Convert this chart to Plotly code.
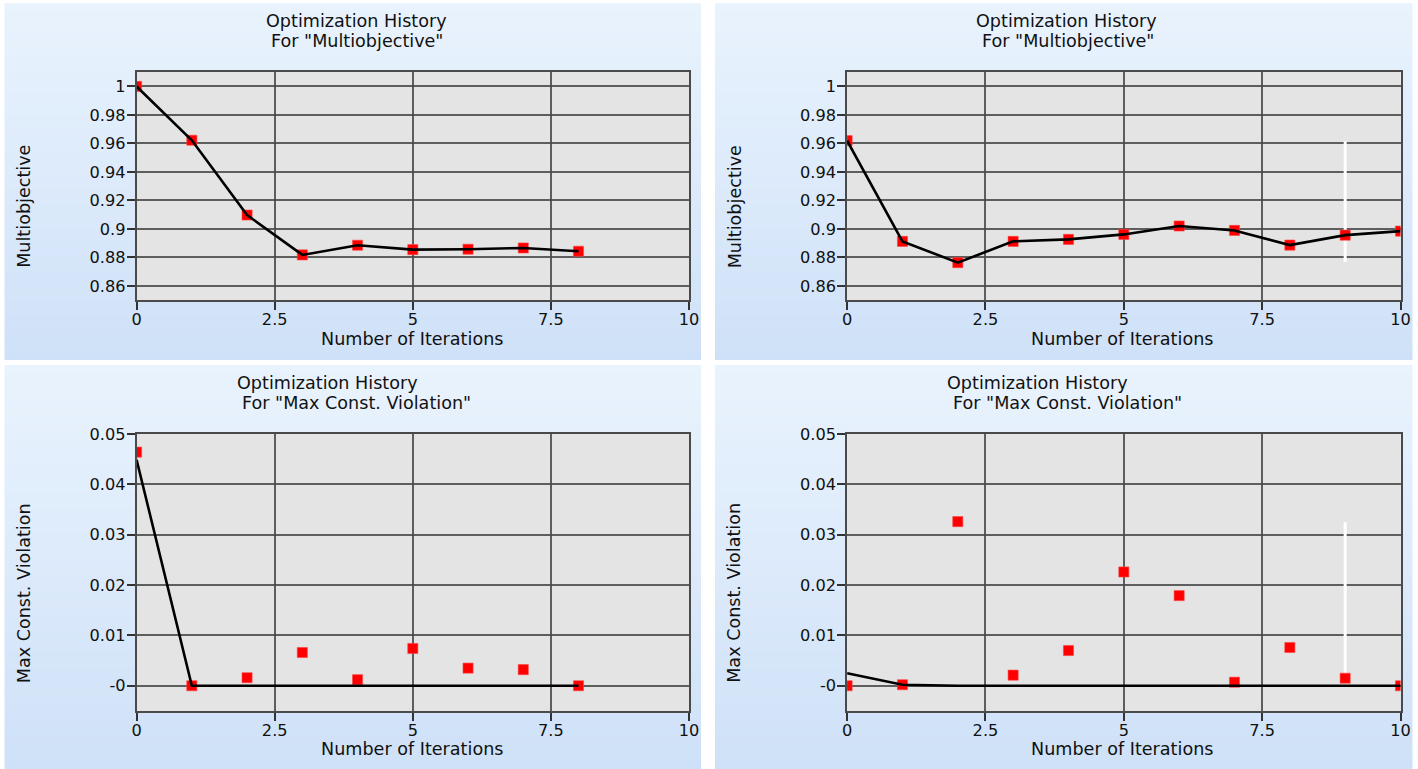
import plotly.graph_objects as go

# ---------------- data ----------------
iters_left = [0, 1, 2, 3, 4, 5, 6, 7, 8]
iters_right = [0, 1, 2, 3, 4, 5, 6, 7, 8, 9, 10]

multi_left = [1.0, 0.9622, 0.9097, 0.8817, 0.8885, 0.8854, 0.8857, 0.8866, 0.8843]
multi_right = [0.9619, 0.8912, 0.8763, 0.8912, 0.8926, 0.8961, 0.9020, 0.8989, 0.8886, 0.8956, 0.8984]

viol_left_pts = [0.0464, 0.0, 0.0016, 0.0066, 0.0012, 0.0074, 0.0035, 0.0032, 0.0]
viol_left_line = [0.0449, 0.0, 0.0, 0.0, 0.0, 0.0001, 0.0, 0.0, 0.0]
viol_right_pts = [0.0, 0.0002, 0.0326, 0.0021, 0.0070, 0.0226, 0.0179, 0.0007, 0.0076, 0.0015, 0.0]
viol_right_line = [0.0025, 0.0002, 0.0, 0.0, 0.0001, 0.0, 0.0, 0.0, 0.0, 0.0, 0.0]

range_bar_x = [9, 9]
multi_range_bar = [0.8767, 0.9614]
viol_range_bar = [0.0015, 0.0325]

x_ticks = [0, 2.5, 5, 7.5, 10]
x_ticklabels = ["0", "2.5", "5", "7.5", "10"]
multi_ticks = [0.86, 0.88, 0.9, 0.92, 0.94, 0.96, 0.98, 1.0]
multi_ticklabels = ["0.86", "0.88", "0.9", "0.92", "0.94", "0.96", "0.98", "1"]
viol_ticks = [0.0, 0.01, 0.02, 0.03, 0.04, 0.05]
viol_ticklabels = ["-0", "0.01", "0.02", "0.03", "0.04", "0.05"]

title_line1 = "Optimization History"
title_multi_line2 = "For \"Multiobjective\""
title_viol_line2 = "For \"Max Const. Violation\""
ylabel_multi = "Multiobjective"
ylabel_viol = "Max Const. Violation"
xlabel = "Number of Iterations"

# ---------------- layout geometry (reference pixels) ----------------
W, H = 1418, 769
# the page is photographed slightly scaled/offset; pre-compensate positions
S, OX, OY = 0.9887, 4.5, 8.8
FONT = "DejaVu Sans"
TXT = "#111111"
GRID = "rgba(70,70,70,0.85)"
TS = 17.4 / S
TKS = 16 / S


def fx(p):
    return ((p - OX) / S) / W


def fy(p):
    return 1 - ((p - OY) / S) / H


panels = [(4, 3, 700, 360), (714, 3, 1411, 360), (4, 365, 700, 769), (714, 365, 1411, 769)]
plots = [(136, 72, 688, 300), (846, 72, 1399, 300), (136, 434, 688, 711), (846, 434, 1399, 711)]

fig = go.Figure()

shapes = []
top_c = (233, 243, 253)
bot_c = (207, 225, 248)
n = 48
for (l, t, r, b) in panels:
    h = (b - t) / n
    for i in range(n):
        f = (i + 0.5) / n
        c = tuple(round(top_c[k] + (bot_c[k] - top_c[k]) * f) for k in range(3))
        yb = b + 12 if (i == n - 1 and b >= 769) else min(b, t + (i + 1) * h + 0.6)
        shapes.append(dict(type="rect", xref="paper", yref="paper", layer="below",
                           x0=fx(l), x1=fx(r), y0=fy(t + i * h), y1=fy(yb),
                           line=dict(width=0), fillcolor="rgb(%d,%d,%d)" % c))
for (l, t, r, b) in plots:
    shapes.append(dict(type="rect", xref="paper", yref="paper", layer="below",
                       x0=fx(l), x1=fx(r), y0=fy(b), y1=fy(t),
                       line=dict(width=0), fillcolor="#e4e4e4"))

subplots = [
    dict(x=iters_left, pts=multi_left, line=multi_left, bar=None,
         ticks=multi_ticks, labels=multi_ticklabels, yr=[0.85, 1.01]),
    dict(x=iters_right, pts=multi_right, line=multi_right, bar=multi_range_bar,
         ticks=multi_ticks, labels=multi_ticklabels, yr=[0.85, 1.01]),
    dict(x=iters_left, pts=viol_left_pts, line=viol_left_line, bar=None,
         ticks=viol_ticks, labels=viol_ticklabels, yr=[-0.005, 0.05]),
    dict(x=iters_right, pts=viol_right_pts, line=viol_right_line, bar=viol_range_bar,
         ticks=viol_ticks, labels=viol_ticklabels, yr=[-0.005, 0.05]),
]

layout_axes = {}
for i, sp in enumerate(subplots):
    idx = "" if i == 0 else str(i + 1)
    xa, ya = "x" + idx, "y" + idx
    if sp["bar"] is not None:
        fig.add_trace(go.Scatter(x=range_bar_x, y=sp["bar"], mode="lines",
                                 line=dict(color="white", width=3 / S),
                                 xaxis=xa, yaxis=ya, showlegend=False, hoverinfo="skip"))
    fig.add_trace(go.Scatter(x=sp["x"], y=sp["pts"], mode="markers",
                             marker=dict(symbol="square", size=10 / S, color="#ff0000",
                                         line=dict(width=1, color="rgba(255,70,70,0.6)")),
                             xaxis=xa, yaxis=ya, showlegend=False))
    fig.add_trace(go.Scatter(x=sp["x"], y=sp["line"], mode="lines",
                             line=dict(color="black", width=2.6),
                             xaxis=xa, yaxis=ya, showlegend=False))
    l, t, r, b = plots[i]
    common = dict(showline=True, mirror=True, linecolor="#4a4a4a", linewidth=1.5,
                  showgrid=True, gridcolor=GRID, gridwidth=1.5, zeroline=False,
                  ticks="outside", ticklen=8 / S, tickwidth=1.5, tickcolor="#333333",
                  tickfont=dict(family=FONT, size=TKS, color=TXT), fixedrange=True)
    layout_axes["xaxis" + idx] = dict(domain=[fx(l), fx(r)], anchor=ya, range=[0, 10],
                                      tickmode="array", tickvals=x_ticks, ticktext=x_ticklabels,
                                      ticklabelstandoff=-4, **common)
    layout_axes["yaxis" + idx] = dict(domain=[fy(b), fy(t)], anchor=xa, range=sp["yr"],
                                      tickmode="array", tickvals=sp["ticks"], ticktext=sp["labels"],
                                      ticklabelstandoff=-2, **common)

annotations = []
# (left x of line1, centre y line1, left x of line2, centre y line2, line2 text)
title_pos = [(264, 20.7, 269.6, 40.7, title_multi_line2),
             (974, 20.7, 979.6, 40.7, title_multi_line2),
             (235, 383.3, 240.7, 402.7, title_viol_line2),
             (945, 383.3, 950.7, 402.7, title_viol_line2)]
for (x1, y1, x2, y2, txt2) in title_pos:
    for (xx, yy, tt) in ((x1, y1, title_line1), (x2, y2, txt2)):
        annotations.append(dict(text=tt, x=fx(xx), y=fy(yy), xref="paper", yref="paper",
                                xanchor="left", yanchor="middle", showarrow=False,
                                borderpad=0, font=dict(family=FONT, size=TS, color=TXT)))
ylabels = [(23.5, 206.7, ylabel_multi), (733.5, 206.7, ylabel_multi),
           (23.5, 593.3, ylabel_viol), (733.5, 593.3, ylabel_viol)]
for (x, y, txt) in ylabels:
    annotations.append(dict(text=txt, x=fx(x), y=fy(y), xref="paper", yref="paper",
                            xanchor="center", yanchor="middle", textangle=-90, showarrow=False,
                            font=dict(family=FONT, size=TS, color=TXT)))
xlabels = [(411, 339.3), (1121, 339.3), (411, 749.3), (1121, 749.3)]
for (x, y) in xlabels:
    annotations.append(dict(text=xlabel, x=fx(x), y=fy(y), xref="paper", yref="paper",
                            xanchor="center", yanchor="middle", showarrow=False,
                            font=dict(family=FONT, size=TS, color=TXT)))

fig.update_layout(width=W, height=H, margin=dict(l=0, r=0, t=0, b=0),
                  paper_bgcolor="white", plot_bgcolor="rgba(0,0,0,0)",
                  shapes=shapes, annotations=annotations, showlegend=False,
                  font=dict(family=FONT, size=16, color=TXT), **layout_axes)

fig.write_html("out.html", config={"displayModeBar": False},
               post_script="document.body.style.margin='0';")
